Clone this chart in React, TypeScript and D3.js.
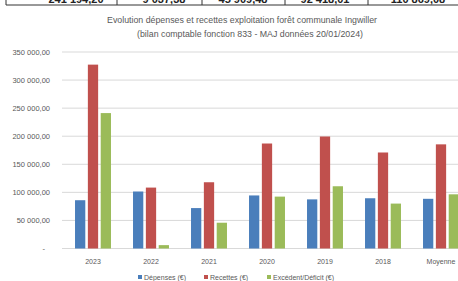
import React from 'react';
import * as d3 from 'd3';

const categories = ['2023', '2022', '2021', '2020', '2019', '2018', 'Moyenne'];
const depenses = [86000, 101500, 72000, 94500, 87500, 89500, 88500];
const recettes = [327500, 108500, 118000, 187000, 199500, 171000, 185500];
const excedent = [241194, 6000, 45909, 92418, 110869, 80000, 96500];
const seriesNames = ['Dépenses (€)', 'Recettes (€)', 'Excédent/Déficit (€)'];
const seriesColors = ['#4a7ebb', '#c0504d', '#9bbb59'];
const yTicks = [0, 50000, 100000, 150000, 200000, 250000, 300000, 350000];
const tableCells = ['241 194,20', '9 037,38', '45 909,48', '92 418,01', '110 869,08'];

const width = 458;
const height = 281;
const grey = '#595959';

const fmt = (v: number) => {
  if (v === 0) return '-';
  const s = d3.format(',.2f')(v);
  return s.replace(/,/g, ' ').replace('.', ',');
};

export default function App() {
  const x = d3.scaleBand<string>().domain(categories).range([64, 64 + 7 * 58]).paddingInner(0.38).paddingOuter(0.19);
  const inner = d3.scaleBand<number>().domain([0, 1, 2]).range([0, x.bandwidth()]).paddingInner(0.2);
  const y = d3.scaleLinear().domain([0, 350000]).range([248.5, 52]);
  const values = [depenses, recettes, excedent];

  const tableX = d3.scaleBand<number>().domain([0, 1, 2, 3, 4]).range([6, 458 + 10]);
  const tableLines = [6, 117, 202, 285, 368];
  const tableCenters = [76, 164, 243, 325, 418];

  const legendX = [138, 204, 267];

  return (
    <svg width={width} height={height} style={{ position: 'absolute', left: 0, top: 0, background: '#fff' }}
      fontFamily="'Liberation Sans', Arial, sans-serif">
      {/* bout du tableau coupé en haut */}
      <line x1={6} x2={458} y1={5} y2={5} stroke="#333" strokeWidth={1} />
      {tableLines.map((lx) => (
        <line key={lx} x1={lx} x2={lx} y1={0} y2={5} stroke="#333" strokeWidth={1} />
      ))}
      {tableCells.map((t, i) => (
        <text key={t} x={tableCenters[i]} y={2.5} fontSize={11} fontWeight="bold" fill="#222" textAnchor="middle">
          {t}
        </text>
      ))}

      <text x={242} y={23} fontSize={8.8} fill={grey} textAnchor="middle">
        Evolution dépenses et recettes exploitation forêt communale Ingwiller
      </text>
      <text x={250} y={37} fontSize={8.8} fill={grey} textAnchor="middle">
        (bilan comptable fonction 833 - MAJ données 20/01/2024)
      </text>

      {yTicks.map((t) => (
        <g key={t}>
          <line x1={62} x2={width} y1={y(t)} y2={y(t)} stroke="#d9d9d9" strokeWidth={1} />
          <text x={t === 0 ? 45 : 50} y={y(t) + 2.6} fontSize={7.5} fill={grey} textAnchor="end">
            {fmt(t)}
          </text>
        </g>
      ))}

      {categories.map((c, ci) => (
        <g key={c} transform={`translate(${x(c)},0)`}>
          {values.map((vals, si) => (
            <rect key={si} x={inner(si)} y={y(vals[ci])} width={inner.bandwidth()}
              height={y(0) - y(vals[ci])} fill={seriesColors[si]} />
          ))}
          <text x={x.bandwidth() / 2} y={264} fontSize={7} fill={grey} textAnchor="middle">{c}</text>
        </g>
      ))}

      {seriesNames.map((n, i) => (
        <g key={n} transform={`translate(${legendX[i]},279)`}>
          <rect x={0} y={-4} width={4} height={4} fill={seriesColors[i]} />
          <text x={6} y={0.5} fontSize={7} fill={grey}>{n}</text>
        </g>
      ))}
    </svg>
  );
}
